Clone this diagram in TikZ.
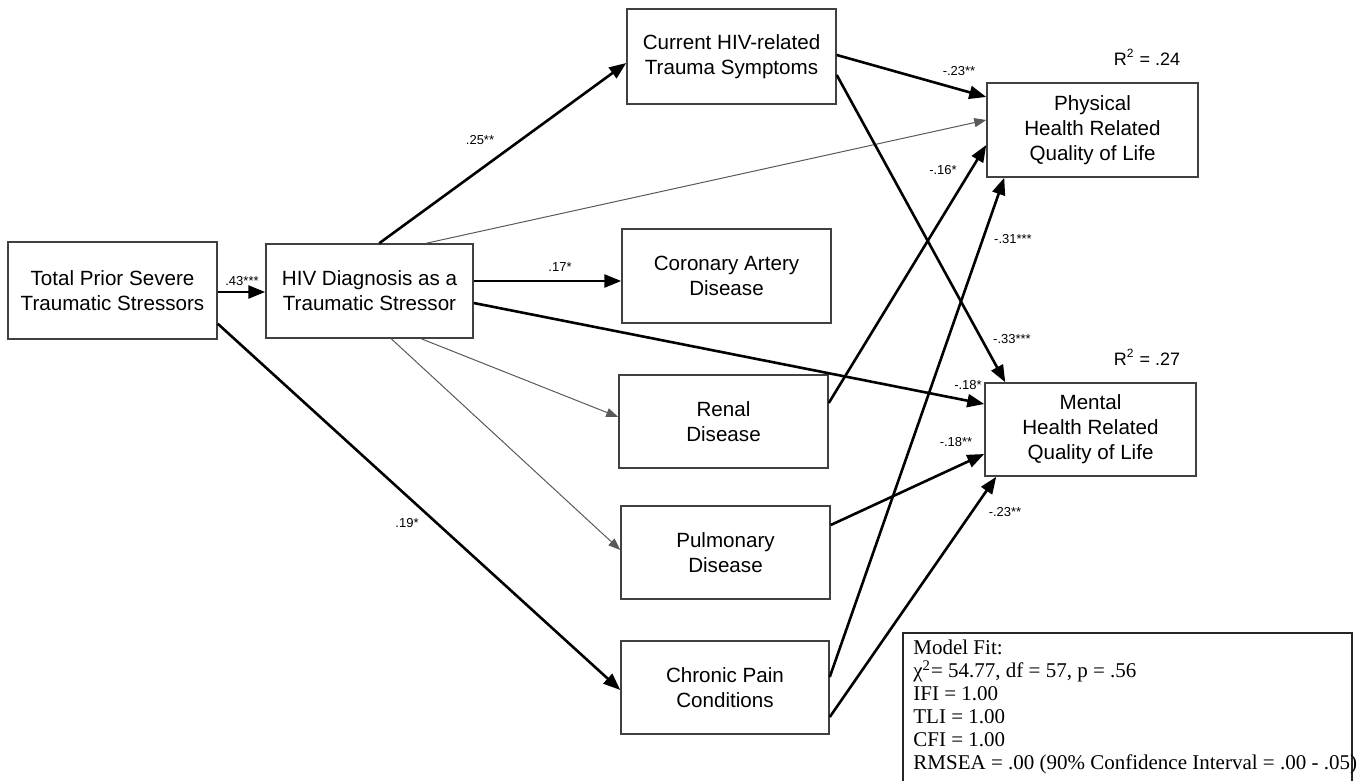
\documentclass[tikz,border=0pt]{standalone}
\usepackage{fontspec}
\setmainfont{Liberation Sans}
\newfontfamily\fitfont{Liberation Serif}
\usetikzlibrary{arrows.meta,calc}
\begin{document}
\begin{tikzpicture}[x=0.5pt,y=-0.5pt,
  box/.style={draw=black!75, line width=0.75pt, rectangle, inner sep=0pt, align=center,
    font=\fontsize{10.3}{12.5}\selectfont},
  heavy/.style={draw=black, line width=1.3pt, -{Triangle[length=8.5pt,width=6.5pt]}},
  light/.style={draw=black!65, line width=0.5pt, -{Triangle[length=6pt,width=4.5pt]}},
  coef/.style={font=\fontsize{6.5}{7}\selectfont, inner sep=0pt},
  rsq/.style={font=\fontsize{9}{10}\selectfont, inner sep=0pt},
  frame/.style={draw=black!85, line width=0.8pt}
]
\useasboundingbox (0,0) rectangle (1360,781);

% boxes
\node[box, minimum width=104.5pt, minimum height=48.5pt] (tot) at (112.5,290.5) {Total Prior Severe\\Traumatic Stressors};
\node[box, minimum width=103.5pt, minimum height=47pt] (hiv) at (369.5,291) {HIV Diagnosis as a\\Traumatic Stressor};
\node[box, minimum width=104.5pt, minimum height=47.5pt] (cur) at (731.5,56.5) {Current HIV-related\\Trauma Symptoms};
\node[box, minimum width=104.5pt, minimum height=47pt] (cor) at (726.5,276) {Coronary Artery\\Disease};
\node[box, minimum width=104.5pt, minimum height=46.5pt] (ren) at (723.5,421.5) {Renal\\Disease};
\node[box, minimum width=104.5pt, minimum height=46.5pt] (pul) at (725.5,552.5) {Pulmonary\\Disease};
\node[box, minimum width=104pt, minimum height=46.5pt] (chr) at (725,687.5) {Chronic Pain\\Conditions};
\node[box, minimum width=105.5pt, minimum height=47pt] (phy) at (1092.5,130) {Physical\\Health Related\\Quality of Life};
\node[box, minimum width=105.5pt, minimum height=46.5pt] (men) at (1090.5,429.5) {Mental\\Health Related\\Quality of Life};

% connectors
\draw[heavy] ($(tot.east)+(0,1.5)$) -- ($(hiv.west)+(0,1)$);
\draw[heavy] ($(hiv.north west)+(114,0)$) -- ($(cur.west)+(0,6.5)$);
\draw[light] ($(hiv.north west)+(161,0)$) -- ($(phy.west)+(0,-10)$);
\draw[heavy] ($(hiv.east)+(0,-10)$) -- ($(cor.west)+(0,5)$);
\draw[heavy] ($(hiv.east)+(0,12)$) -- ($(men.west)+(0,-25.5)$);
\draw[light] ($(hiv.south west)+(156,0)$) -- ($(ren.west)+(0,-4.5)$);
\draw[light] ($(hiv.south west)+(126,0)$) -- ($(pul.west)+(0,-2.5)$);
\draw[heavy] ($(tot.south east)+(0,-16)$) -- ($(chr.west)+(0,2.5)$);
\draw[heavy] ($(cur.east)+(0,-1.5)$) -- ($(phy.west)+(0,-33)$);
\draw[heavy] ($(cur.east)+(0,18.5)$) -- ($(men.north west)+(21,0)$);
\draw[heavy] ($(ren.east)+(0,-18.5)$) -- ($(phy.west)+(0,15)$);
\draw[heavy] ($(chr.east)+(0,-10.5)$) -- ($(phy.south west)+(18,0)$);
\draw[heavy] ($(pul.east)+(0,-27.5)$) -- ($(men.west)+(0,24.5)$);
\draw[heavy] ($(chr.east)+(0,29.5)$) -- ($(men.south west)+(12,0)$);

% coefficients
\node[coef] (c1) at (242,281) {.43***};
\node[coef] (c2) at (480,140) {.25**};
\node[coef] (c3) at (560,267) {.17*};
\node[coef] (c4) at (968,385) {-.18*};
\node[coef] (c5) at (407,523) {.19*};
\node[coef] (c6) at (959,71) {-.23**};
\node[coef] (c7) at (1012,339) {-.33***};
\node[coef] (c8) at (943,170) {-.16*};
\node[coef] (c9) at (1013,239) {-.31***};
\node[coef] (c10) at (956,442) {-.18**};
\node[coef] (c11) at (1005,512) {-.23**};

\node[rsq] (r1) at (1147,57) {R\textsuperscript{2} = .24};
\node[rsq] (r2) at (1147,357) {R\textsuperscript{2} = .27};

% model fit
\draw[frame] (903,790) -- (903,633) -- (1352,633) -- (1352,790);
\node[anchor=north west, inner sep=0pt, align=left, font=\fitfont\fontsize{10.5}{11.5}\selectfont] (fit) at (913,640)
 {Model Fit:\\
  χ\textsuperscript{2}= 54.77, df = 57, p = .56\\
  IFI = 1.00\\
  TLI = 1.00\\
  CFI = 1.00\\
  RMSEA = .00 (90\% Confidence Interval = .00 - .05)};
\end{tikzpicture}
\end{document}
